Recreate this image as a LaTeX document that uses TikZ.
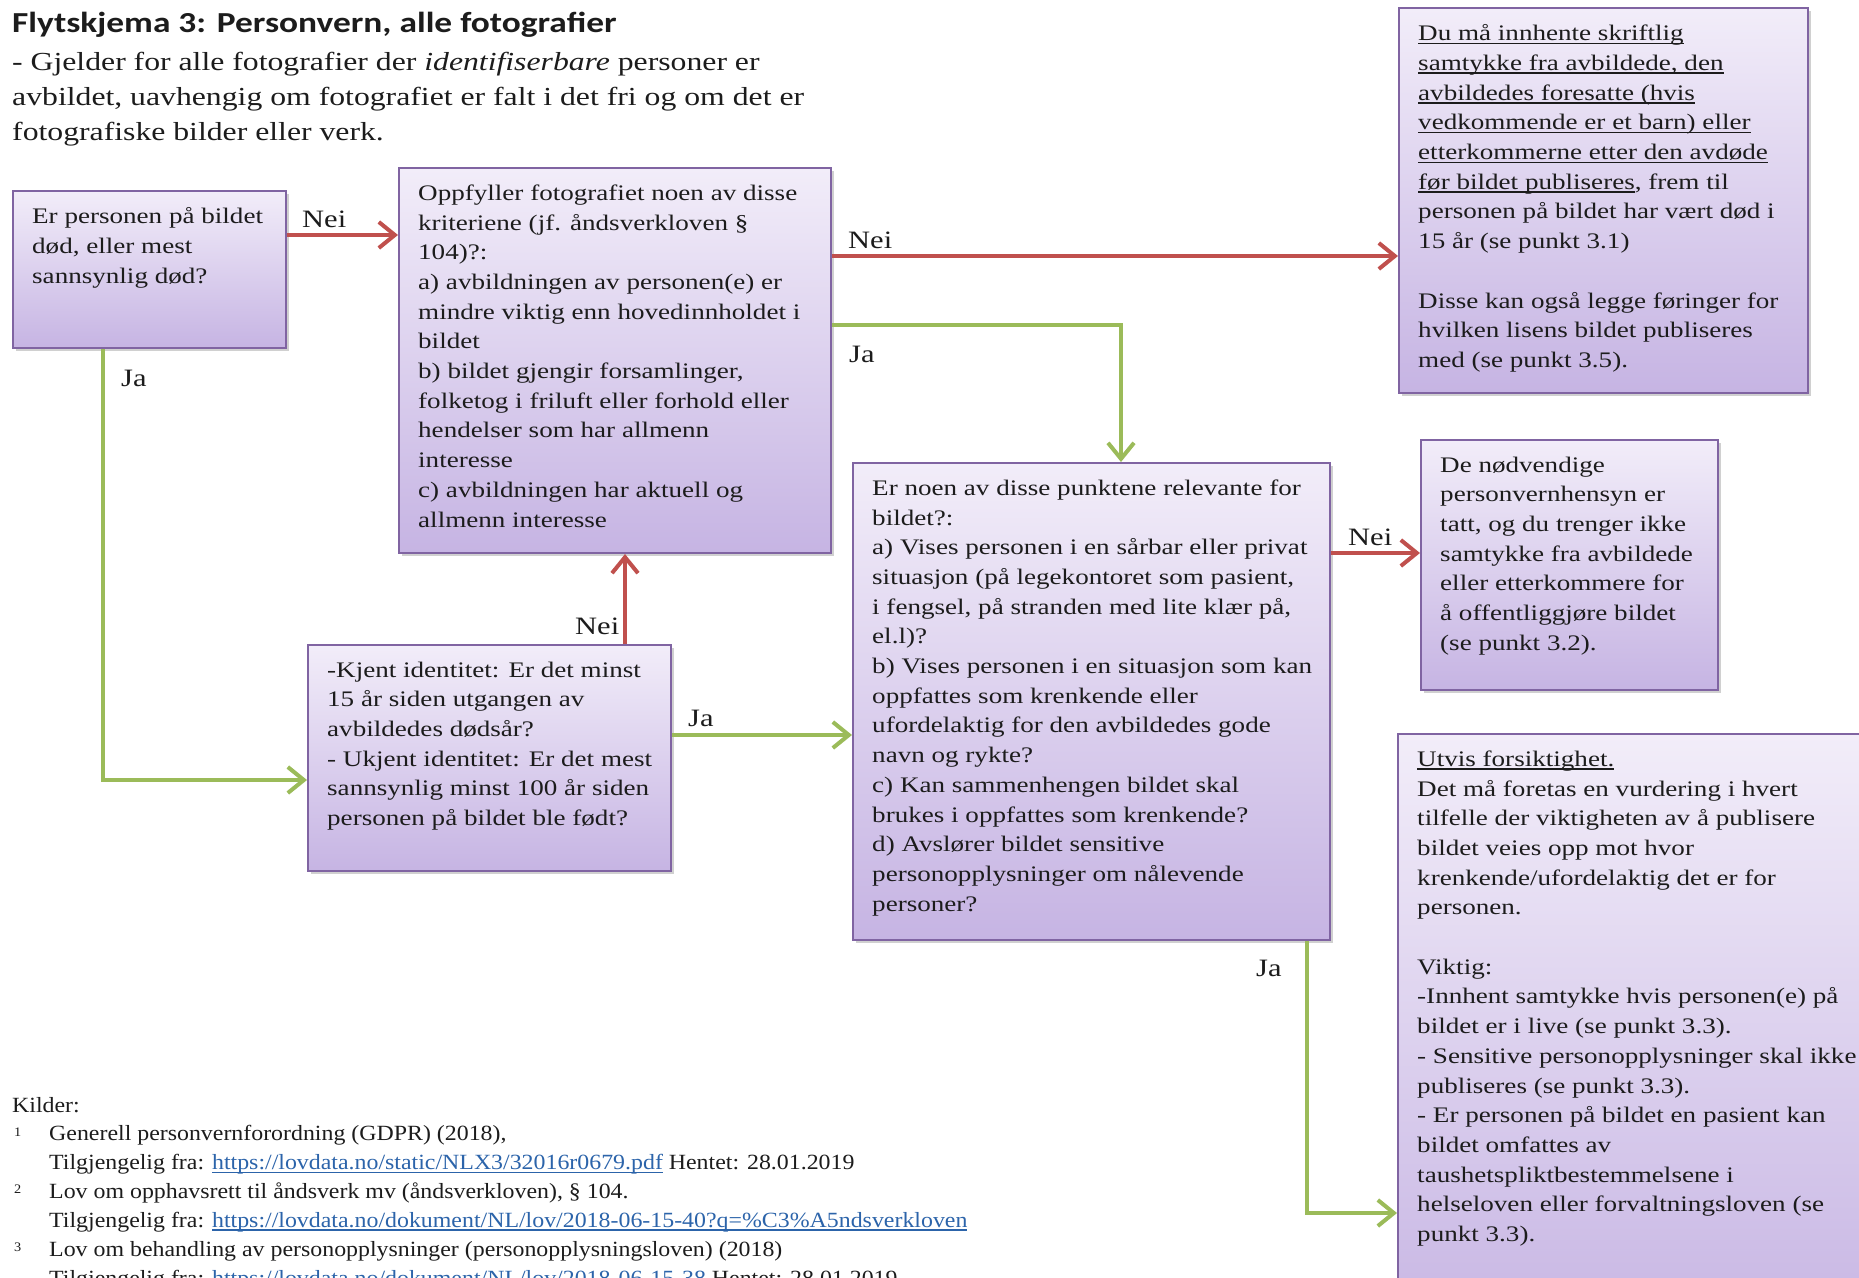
\documentclass[tikz,border=0pt]{standalone}
\usepackage{fontspec}
\setmainfont{Liberation Serif}[FakeStretch=1.22]
\newfontfamily\titlefont{Carlito}[FakeStretch=1.22]
\newfontfamily\srcfont{Liberation Serif}[FakeStretch=1.10]
\usetikzlibrary{arrows.meta,shadows}
\definecolor{boxtop}{RGB}{242,237,249}
\definecolor{boxbot}{RGB}{198,180,227}
\definecolor{boxline}{RGB}{128,100,162}
\definecolor{neired}{RGB}{192,80,77}
\definecolor{jagreen}{RGB}{155,187,89}
\definecolor{txtcol}{RGB}{28,28,28}
\definecolor{linkblue}{RGB}{44,100,170}
\newcommand\ulx[1]{\setbox0=\hbox{#1}\rlap{\rule[-3.5pt]{\wd0}{1.5pt}}\box0}
\tikzset{
  box/.style={draw=boxline, line width=2pt, top color=boxtop, bottom color=boxbot,
    anchor=north west, inner sep=0pt, rectangle,
    drop shadow={shadow xshift=3pt, shadow yshift=-3pt, opacity=0.3, fill=black!60}},
  txt/.style={anchor=north west, yshift=16.5pt, align=left, inner sep=0pt, text=txtcol,
    execute at begin node=\strut, font=\fontsize{22.2}{29.7}\selectfont},
  lbl/.style={anchor=base west, inner sep=0pt, text=txtcol,
    font=\fontsize{25}{28}\selectfont},
  src/.style={anchor=north west, yshift=16.5pt, align=left, inner sep=0pt, text=txtcol,
    execute at begin node=\strut, font=\srcfont\fontsize{21.7}{28.8}\selectfont},
  supnum/.style={anchor=base west, inner sep=0pt, text=txtcol,
    font=\srcfont\fontsize{13}{14}\selectfont},
  nei/.style={draw=neired, line width=4pt, -{Straight Barb[length=16pt,width=26pt]}},
  ja/.style={draw=jagreen, line width=4pt, -{Straight Barb[length=16pt,width=26pt]}},
}
\begin{document}
\begin{tikzpicture}[x=1pt,y=-1pt]
\useasboundingbox (0,0) rectangle (1859,1277);
\clip (0,0) rectangle (1859,1277);
\fill[white] (0,0) rectangle (1859,1277);

% Title
\node[anchor=base west, inner sep=0pt, text=txtcol, font=\titlefont\bfseries\fontsize{29}{32}\selectfont] (title) at (12,32) {Flytskjema 3: Personvern, alle fotografier};
\node[anchor=north west, yshift=24.5pt, align=left, inner sep=0pt, text=txtcol, execute at begin node=\strut, font=\fontsize{26}{35}\selectfont] (subtitle) at (12,76)
  {- Gjelder for alle fotografier der \textit{identifiserbare} personer er\\
   avbildet, uavhengig om fotografiet er falt i det fri og om det er\\
   fotografiske bilder eller verk.};

% Boxes
\node[box, minimum width=273pt, minimum height=157pt] (b1) at (12,190) {};
\node[box, minimum width=432pt, minimum height=385pt] (b2) at (398,167) {};
\node[box, minimum width=409pt, minimum height=385pt] (b3) at (1398,7) {};
\node[box, minimum width=477pt, minimum height=477pt] (b4) at (852,462) {};
\node[box, minimum width=363pt, minimum height=226pt] (b5) at (307,644) {};
\node[box, minimum width=297pt, minimum height=250pt] (b6) at (1420,439) {};
\node[box, minimum width=520pt, minimum height=620pt] (b7) at (1397,733) {};

% Box texts
\node[txt] (t1) at (32,224) {Er personen på bildet\\død, eller mest\\sannsynlig død?};
\node[txt] (t2) at (418,201) {Oppfyller fotografiet noen av disse\\kriteriene (jf. åndsverkloven §\\104)?:\\a) avbildningen av personen(e) er\\mindre viktig enn hovedinnholdet i\\bildet\\b) bildet gjengir forsamlinger,\\folketog i friluft eller forhold eller\\hendelser som har allmenn\\interesse\\c) avbildningen har aktuell og\\allmenn interesse};
\node[txt] (t3) at (1418,41) {\ulx{Du må innhente skriftlig}\\\ulx{samtykke fra avbildede, den}\\\ulx{avbildedes foresatte (hvis}\\\ulx{vedkommende er et barn) eller}\\\ulx{etterkommerne etter den avdøde}\\\ulx{før bildet publiseres}, frem til\\personen på bildet har vært død i\\15 år (se punkt 3.1)\\[29.7pt]Disse kan også legge føringer for\\hvilken lisens bildet publiseres\\med (se punkt 3.5).};
\node[txt] (t4) at (872,496) {Er noen av disse punktene relevante for\\bildet?:\\a) Vises personen i en sårbar eller privat\\situasjon (på legekontoret som pasient,\\i fengsel, på stranden med lite klær på,\\el.l)?\\b) Vises personen i en situasjon som kan\\oppfattes som krenkende eller\\ufordelaktig for den avbildedes gode\\navn og rykte?\\c) Kan sammenhengen bildet skal\\brukes i oppfattes som krenkende?\\d) Avslører bildet sensitive\\personopplysninger om nålevende\\personer?};
\node[txt] (t5) at (327,678) {-Kjent identitet: Er det minst\\15 år siden utgangen av\\avbildedes dødsår?\\- Ukjent identitet: Er det mest\\sannsynlig minst 100 år siden\\personen på bildet ble født?};
\node[txt] (t6) at (1440,473) {De nødvendige\\personvernhensyn er\\tatt, og du trenger ikke\\samtykke fra avbildede\\eller etterkommere for\\å offentliggjøre bildet\\(se punkt 3.2).};
\node[txt] (t7) at (1417,767) {\ulx{Utvis forsiktighet.}\\Det må foretas en vurdering i hvert\\tilfelle der viktigheten av å publisere\\bildet veies opp mot hvor\\krenkende/ufordelaktig det er for\\personen.\\[29.7pt]Viktig:\\-Innhent samtykke hvis personen(e) på\\bildet er i live (se punkt 3.3).\\- Sensitive personopplysninger skal ikke\\publiseres (se punkt 3.3).\\- Er personen på bildet en pasient kan\\bildet omfattes av\\taushetspliktbestemmelsene i\\helseloven eller forvaltningsloven (se\\punkt 3.3).};

% helper coordinates
\coordinate (h1) at (0,235);
\coordinate (h2) at (0,256);
\coordinate (h3) at (0,325);
\coordinate (h4) at (0,735);
\coordinate (h5) at (0,553);
\coordinate (h6) at (0,1213);
\coordinate (h7) at (0,780);
\coordinate (v1) at (103,0);
\coordinate (v2) at (1121,0);
\coordinate (v3) at (625,0);
\coordinate (v4) at (1306.5,0);

% Connectors
\draw[nei] (b1.east |- h1) -- (b2.west |- h1);
\draw[ja] (b1.south -| v1) |- (b5.west |- h7);
\draw[nei] (b2.east |- h2) -- (b3.west |- h2);
\draw[ja] (b2.east |- h3) -| (b4.north -| v2);
\draw[nei] (b5.north -| v3) -- (b2.south -| v3);
\draw[ja] (b5.east |- h4) -- (b4.west |- h4);
\draw[nei] (b4.east |- h5) -- (b6.west |- h5);
\draw[ja] (b4.south -| v4) |- (b7.west |- h6);

% Labels
\node[lbl] (l1) at (302,227) {Nei};
\node[lbl] (l2) at (121,386) {Ja};
\node[lbl] (l3) at (848,248) {Nei};
\node[lbl] (l4) at (849,362) {Ja};
\node[lbl] (l5) at (575,634) {Nei};
\node[lbl] (l6) at (688,726) {Ja};
\node[lbl] (l7) at (1348,545) {Nei};
\node[lbl] (l8) at (1256,976) {Ja};

% Sources
\node[src] (kilder) at (12,1109) {Kilder:};
\node[supnum] (n1) at (14,1136) {1};
\node[supnum] (n2) at (14,1193.5) {2};
\node[supnum] (n3) at (14,1251) {3};
\node[src] (refs) at (49,1142) {Generell personvernforordning (GDPR) (2018),\\
Tilgjengelig fra: {\color{linkblue}\ulx{https://lovdata.no/static/NLX3/32016r0679.pdf}} Hentet: 28.01.2019\\
Lov om opphavsrett til åndsverk mv (åndsverkloven), § 104.\\
Tilgjengelig fra: {\color{linkblue}\ulx{https://lovdata.no/dokument/NL/lov/2018-06-15-40?q=\%C3\%A5ndsverkloven}}\\
Lov om behandling av personopplysninger (personopplysningsloven) (2018)\\
Tilgjengelig fra: {\color{linkblue}\ulx{https://lovdata.no/dokument/NL/lov/2018-06-15-38}} Hentet: 28.01.2019};
\end{tikzpicture}
\end{document}
